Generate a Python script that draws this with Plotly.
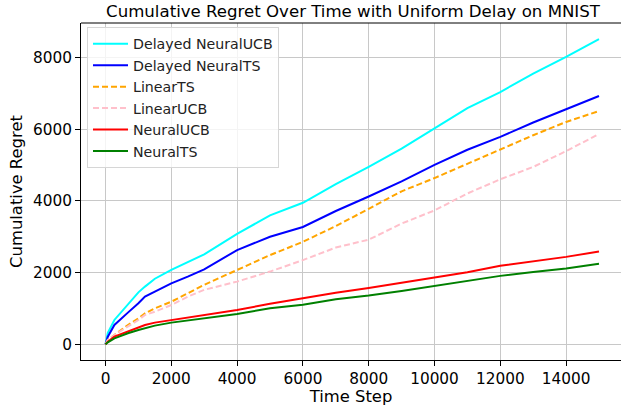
import plotly.graph_objects as go

steps = [0, 70, 270, 480, 680, 1000, 1200, 1500, 2000, 2500, 3000, 4000, 5000, 6000,
         7000, 8000, 9000, 10000, 11000, 12000, 13000, 14000, 15000]

delayed_neural_ucb = [0, 320, 680, 910, 1100, 1450, 1610, 1830, 2080, 2290, 2510, 3080, 3600,
                      3950, 4470, 4955, 5460, 6025, 6590, 7040, 7555, 8020, 8520]
delayed_neural_ts = [0, 214, 539, 725, 884, 1144, 1330, 1470, 1702, 1888, 2090, 2630, 3000,
                     3275, 3720, 4125, 4545, 5010, 5430, 5790, 6190, 6560, 6930]
linear_ts = [0, 120, 260, 400, 540, 725, 865, 1004, 1190, 1423, 1660, 2075, 2490,
             2860, 3300, 3780, 4270, 4640, 5040, 5440, 5835, 6205, 6510]
linear_ucb = [0, 120, 260, 381, 493, 679, 818, 911, 1097, 1330, 1520, 1750, 2030,
              2350, 2700, 2920, 3370, 3735, 4210, 4605, 4950, 5390, 5870]
neural_ucb = [0, 74, 214, 288, 353, 465, 539, 605, 679, 753, 820, 960, 1130,
              1290, 1440, 1570, 1720, 1870, 2010, 2190, 2310, 2440, 2590]
neural_ts = [0, 56, 167, 242, 307, 400, 446, 521, 605, 660, 725, 845, 1005,
             1105, 1260, 1360, 1485, 1630, 1760, 1910, 2020, 2115, 2245]

series = [
    ("Delayed NeuralUCB", delayed_neural_ucb, "#00FFFF", "solid"),
    ("Delayed NeuralTS", delayed_neural_ts, "#0000FF", "solid"),
    ("LinearTS", linear_ts, "#FFA500", "6px,3px"),
    ("LinearUCB", linear_ucb, "#FFC0CB", "6px,3px"),
    ("NeuralUCB", neural_ucb, "#FF0000", "solid"),
    ("NeuralTS", neural_ts, "#008000", "solid"),
]

x_ticks = [0, 2000, 4000, 6000, 8000, 10000, 12000, 14000]
y_ticks = [0, 2000, 4000, 6000, 8000]

FONT = "DejaVu Sans"

fig = go.Figure()
for name, vals, color, dash in series:
    fig.add_trace(go.Scatter(x=steps, y=vals, mode="lines", name=name,
                             line=dict(color=color, width=2, dash=dash)))

axis_common = dict(
    showgrid=True, gridcolor="#c8c8c8", gridwidth=1, automargin=False,
    zeroline=False, showline=True, linecolor="black", linewidth=1,
    ticks="outside", ticklen=5, tickwidth=1, tickcolor="black",
    tickfont=dict(family=FONT, size=15.3, color="black"),
)

fig.update_layout(
    width=621, height=406,
    margin=dict(l=81, r=0, t=23, b=46),
    paper_bgcolor="white", plot_bgcolor="white",
    font=dict(family=FONT, color="black"),
    title=dict(text="Cumulative Regret Over Time with Uniform Delay on MNIST",
               x=353 / 621, xanchor="center", xref="container",
               y=1 - 11 / 406, yanchor="middle", yref="container",
               font=dict(family=FONT, size=16.6, color="black")),
    xaxis=dict(range=[-745, 15669], tickvals=x_ticks,
               ticktext=[str(v) for v in x_ticks],
               title=dict(text="Time Step", font=dict(family=FONT, size=16.4), standoff=4),
               **axis_common),
    yaxis=dict(range=[-438, 8967], tickvals=y_ticks,
               ticktext=[str(v) for v in y_ticks],
               title=dict(text="Cumulative Regret", font=dict(family=FONT, size=16.4), standoff=6),
               **axis_common),
    legend=dict(x=6 / 540, y=(360 - 27) / 337, xanchor="left", yanchor="top",
                itemwidth=35,
                bgcolor="rgba(255,255,255,0.8)", bordercolor="#d6d6d6", borderwidth=1,
                font=dict(family=FONT, size=14.2, color="#222222")),
    shapes=[dict(type="line", xref="paper", yref="paper", x0=0, x1=1, y0=1, y1=1,
                 line=dict(color="black", width=1))],
)

fig.write_html("out.html", config={"displayModeBar": False},
               post_script="document.body.style.margin='0';document.body.style.overflow='hidden';")
